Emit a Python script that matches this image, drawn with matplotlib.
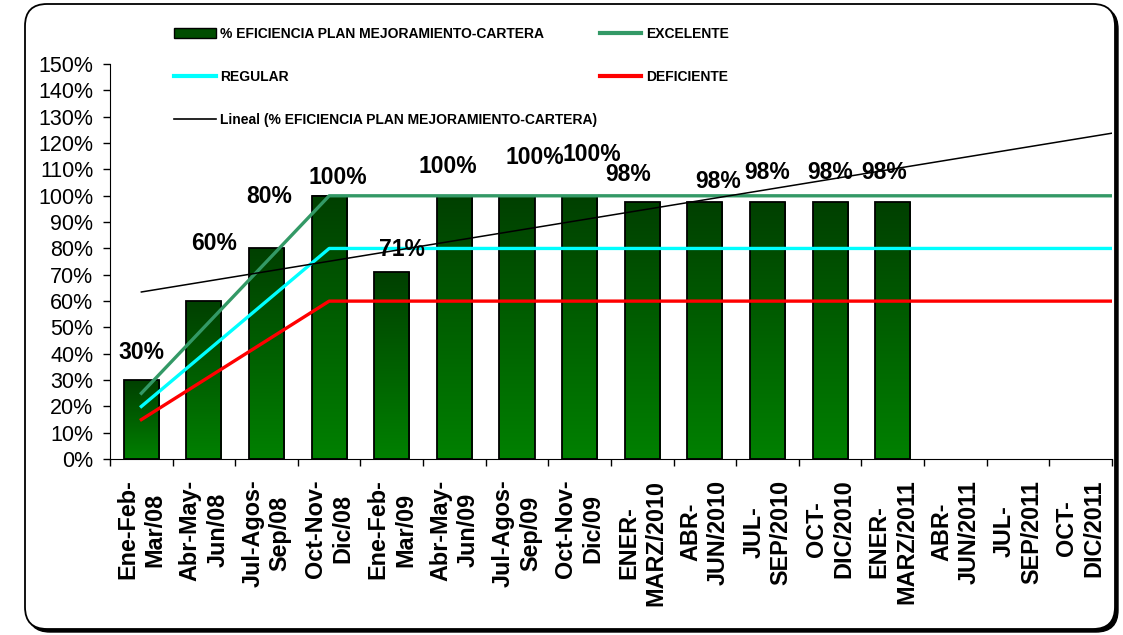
import numpy as np
import matplotlib
matplotlib.use('Agg')
import matplotlib.pyplot as plt
from matplotlib.colors import LinearSegmentedColormap
from matplotlib.patches import FancyBboxPatch, Patch, Rectangle
from matplotlib.lines import Line2D
from matplotlib.ticker import PercentFormatter, MultipleLocator
from matplotlib.transforms import IdentityTransform

plt.rcParams['font.family'] = ['Liberation Sans', 'DejaVu Sans']

# data
periods = ['Ene-Feb-\nMar/08', 'Abr-May-\nJun/08', 'Jul-Agos-\nSep/08', 'Oct-Nov-\nDic/08',
           'Ene-Feb-\nMar/09', 'Abr-May-\nJun/09', 'Jul-Agos-\nSep/09', 'Oct-Nov-\nDic/09',
           'ENER-\nMARZ/2010', 'ABR-\nJUN/2010', 'JUL-\nSEP/2010', 'OCT-\nDIC/2010',
           'ENER-\nMARZ/2011', 'ABR-\nJUN/2011', 'JUL-\nSEP/2011', 'OCT-\nDIC/2011']
eficiencia = [30, 60, 80, 100, 71, 100, 100, 100, 97.5, 97.5, 97.5, 97.5, 97.5]
bar_labels = ['30%', '60%', '80%', '100%', '71%', '100%', '100%', '100%',
              '98%', '98%', '98%', '98%', '98%']
excelente = [25, 50, 75, 100, 100, 100, 100, 100, 100, 100, 100, 100, 100, 100, 100, 100]
regular = [20, 40, 60, 80, 80, 80, 80, 80, 80, 80, 80, 80, 80, 80, 80, 80]
deficiente = [15, 30, 45, 60, 60, 60, 60, 60, 60, 60, 60, 60, 60, 60, 60, 60]

# label placement (offset from bar top, in category units / percent points)
label_dx = [0, 0.16, 0.04, 0.14, 0.17, -0.11, 0.29, 0.19, -0.22, 0.22, 0.0, 0.0, -0.14]
label_dy = [10.3, 22, 19.6, 7, 8.5, 11, 14.4, 15.6, 10.5, 7.8, 11.2, 11.2, 11.2]

fig = plt.figure(figsize=(11.23, 6.35), dpi=100)

# rounded frame with shadow
shadow = FancyBboxPatch((28, 3), 1090, 625, boxstyle='round,pad=0,rounding_size=22',
                        transform=IdentityTransform(), facecolor='black', edgecolor='black',
                        zorder=-3)
frame = FancyBboxPatch((25, 6), 1090, 625, boxstyle='round,pad=0,rounding_size=22',
                       transform=IdentityTransform(), facecolor='white', edgecolor='black',
                       lw=1.3, zorder=-2)
fig.patches.extend([shadow, frame])

ax = fig.add_axes([0.098, 0.277, 0.892, 0.622])
ax.patch.set_alpha(0)

n = len(periods)
width = 0.56
cmap = LinearSegmentedColormap.from_list('g', ['#008000', '#004000'])
grad = np.linspace(0, 1, 100).reshape(-1, 1)
for i, v in enumerate(eficiencia):
    ax.imshow(grad, extent=[i - width / 2, i + width / 2, 0, v], origin='lower',
              cmap=cmap, aspect='auto', zorder=2)
    ax.add_patch(Rectangle((i - width / 2, 0), width, v, fill=False,
                           edgecolor='black', lw=1.3, zorder=3))

# reference lines run to the right edge
xl = np.append(np.arange(n), n - 0.5)
ax.plot(xl, np.append(excelente, excelente[-1]), color='#339966', lw=2.4, zorder=4)
ax.plot(xl, np.append(regular, regular[-1]), color='#00FFFF', lw=2.4, zorder=4)
ax.plot(xl, np.append(deficiente, deficiente[-1]), color='#FF0000', lw=2.4, zorder=4)

# linear trend of the efficiency series
xb = np.arange(len(eficiencia))
slope, icpt = np.polyfit(xb + 1, eficiencia, 1)
xt = np.array([0, n - 0.5])
ax.plot(xt, slope * (xt + 1) + icpt, color='black', lw=1.1, zorder=5)

for i, (v, t) in enumerate(zip(eficiencia, bar_labels)):
    ax.text(i + label_dx[i], v + label_dy[i], t, ha='center', va='center',
            fontsize=16.5, fontweight='bold', zorder=6)

ax.set_xlim(-0.5, n - 0.5)
ax.set_ylim(0, 150)
ax.yaxis.set_major_locator(MultipleLocator(10))
ax.yaxis.set_major_formatter(PercentFormatter(decimals=0))
ax.set_xticks(np.arange(n + 1) - 0.5)
ax.set_xticklabels([])
ax.tick_params(axis='both', direction='out', length=5, width=1, colors='black')
ax.tick_params(axis='y', labelsize=15.5, pad=7)
for i, p in enumerate(periods):
    ax.text(i, -7.8, p, rotation=90, ha='center', va='top', multialignment='center',
            fontsize=16.8, fontweight='bold', linespacing=1.25)
ax.spines['top'].set_visible(False)
ax.spines['right'].set_visible(False)

handles = [Patch(facecolor='#004d00', edgecolor='black'),
           Line2D([], [], color='#00FFFF', lw=3),
           Line2D([], [], color='black', lw=1.2),
           Line2D([], [], color='#339966', lw=3),
           Line2D([], [], color='#FF0000', lw=3)]
labels = ['% EFICIENCIA PLAN MEJORAMIENTO-CARTERA', 'REGULAR',
          'Lineal (% EFICIENCIA PLAN MEJORAMIENTO-CARTERA)', 'EXCELENTE', 'DEFICIENTE']
fig.legend(handles, labels, ncol=2, loc='upper left', bbox_to_anchor=(0.155, 0.958),
           frameon=False, prop={'weight': 'bold', 'size': 10}, handlelength=3,
           handletextpad=0.3, labelspacing=2.1, columnspacing=0.2, borderpad=0,
           borderaxespad=0)

fig.savefig('out.png', dpi=100)
